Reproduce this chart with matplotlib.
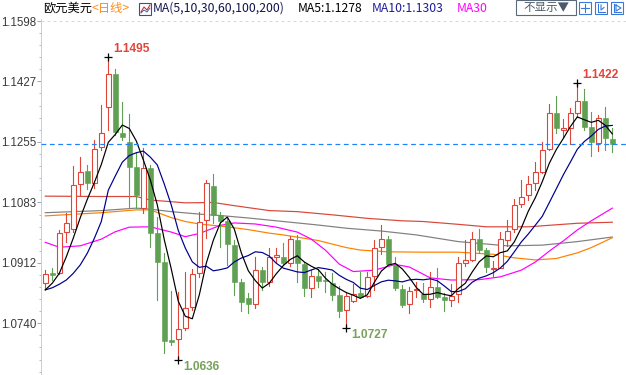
import numpy as np
import pandas as pd
import matplotlib
matplotlib.use("Agg")
import matplotlib.pyplot as plt
from matplotlib.patches import Rectangle
from matplotlib.lines import Line2D

# ---------------- data ----------------
opens = [1.0854, 1.0882, 1.0882, 1.1000, 1.1007, 1.1135, 1.1172, 1.1137, 1.1240, 1.1353,
         1.1447, 1.1280, 1.1254, 1.1185, 1.1066, 1.1180, 1.0997, 1.0915, 1.0692, 1.0695,
         1.0726, 1.0787, 1.0884, 1.1033, 1.1130, 1.1048, 1.1030, 1.0962, 1.0856, 1.0813,
         1.0794, 1.0891, 1.0856, 1.0927, 1.0927, 1.0910, 1.0976, 1.0908, 1.0839, 1.0874,
         1.0864, 1.0854, 1.0821, 1.0778, 1.0804, 1.0826, 1.0819, 1.0874, 1.0956, 1.0978,
         1.0906, 1.0837, 1.0794, 1.0834, 1.0823, 1.0808, 1.0844, 1.0814, 1.0806, 1.0823,
         1.0912, 1.0920, 1.0978, 1.0948, 1.0894, 1.0898, 1.0977, 1.1007, 1.1079, 1.1104,
         1.1138, 1.1170, 1.1234, 1.1336, 1.1290, 1.1293, 1.1338, 1.1371, 1.1296, 1.1251,
         1.1322, 1.1263]
highs = [1.0891, 1.0898, 1.1005, 1.1054, 1.1187, 1.1213, 1.1189, 1.1260, 1.1360, 1.1495,
         1.1462, 1.1367, 1.1333, 1.1223, 1.1237, 1.1189, 1.1043, 1.0939, 1.0832, 1.0828,
         1.0887, 1.0893, 1.1057, 1.1147, 1.1164, 1.1057, 1.1043, 1.0977, 1.0866, 1.0825,
         1.0927, 1.0901, 1.0953, 1.0953, 1.0967, 1.0988, 1.0991, 1.0915, 1.0891, 1.0893,
         1.0885, 1.0884, 1.0846, 1.0830, 1.0853, 1.0887, 1.0887, 1.0977, 1.1019, 1.0988,
         1.0929, 1.0849, 1.0842, 1.0858, 1.0855, 1.0887, 1.0896, 1.0825, 1.0851, 1.0927,
         1.0977, 1.1000, 1.1008, 1.0953, 1.0918, 1.1000, 1.1033, 1.1092, 1.1147, 1.1158,
         1.1199, 1.1256, 1.1363, 1.1385, 1.1319, 1.1350, 1.1422, 1.1404, 1.1341, 1.1331,
         1.1355, 1.1293]
lows = [1.0839, 1.0863, 1.0880, 1.0972, 1.1000, 1.1100, 1.1121, 1.1123, 1.1232, 1.1289,
        1.1275, 1.1260, 1.1067, 1.1066, 1.1052, 1.0958, 1.0806, 1.0655, 1.0680, 1.0636,
        1.0722, 1.0778, 1.0872, 1.0981, 1.1024, 1.0958, 1.0906, 1.0820, 1.0776, 1.0768,
        1.0785, 1.0835, 1.0845, 1.0915, 1.0906, 1.0903, 1.0858, 1.0818, 1.0816, 1.0842,
        1.0830, 1.0806, 1.0759, 1.0727, 1.0800, 1.0813, 1.0816, 1.0835, 1.0937, 1.0905,
        1.0835, 1.0786, 1.0768, 1.0816, 1.0802, 1.0787, 1.0811, 1.0776, 1.0790, 1.0802,
        1.0904, 1.0917, 1.0939, 1.0887, 1.0871, 1.0896, 1.0960, 1.1000, 1.1071, 1.1090,
        1.1119, 1.1166, 1.1232, 1.1281, 1.1270, 1.1249, 1.1327, 1.1290, 1.1215, 1.1230,
        1.1232, 1.1227]
closes = [1.0879, 1.0878, 1.0997, 1.1024, 1.1132, 1.1170, 1.1137, 1.1234, 1.1281, 1.1447,
          1.1282, 1.1270, 1.1185, 1.1104, 1.1180, 1.0997, 1.0915, 1.0690, 1.0688, 1.0723,
          1.0785, 1.0879, 1.1029, 1.1137, 1.1048, 1.1031, 1.0964, 1.0858, 1.0800, 1.0794,
          1.0891, 1.0858, 1.0927, 1.0934, 1.0910, 1.0978, 1.0910, 1.0839, 1.0874, 1.0861,
          1.0860, 1.0821, 1.0776, 1.0819, 1.0823, 1.0816, 1.0871, 1.0953, 1.0978, 1.0908,
          1.0841, 1.0792, 1.0832, 1.0837, 1.0808, 1.0844, 1.0816, 1.0805, 1.0818, 1.0910,
          1.0920, 1.0978, 1.0948, 1.0901, 1.0898, 1.0978, 1.1003, 1.1076, 1.1098, 1.1136,
          1.1169, 1.1232, 1.1336, 1.1293, 1.1293, 1.1336, 1.1371, 1.1296, 1.1256, 1.1322,
          1.1265, 1.1249]

# moving-average values before enough bars exist on screen
ma5_head = [1.0835, 1.0854, 1.0882, 1.0929]
ma10_head = [1.0835, 1.0841, 1.0851, 1.0863, 1.0882, 1.0906, 1.0939, 1.0981, 1.1029]

# longer moving averages read at sample bars
ma30_idx = [0, 2, 5, 8, 10, 12, 15, 18, 20, 22, 25, 27, 30, 33, 36, 38, 40, 42, 44, 47,
            50, 52, 55, 58, 62, 65, 68, 70, 72, 74, 76, 78, 81]
ma30_val = [1.0970, 1.0956, 1.0960, 1.0979, 1.1000, 1.1013, 1.1014, 1.0999, 1.0986, 1.0995,
            1.1018, 1.1025, 1.1022, 1.1013, 1.0999, 1.0979, 1.0948, 1.0908, 1.0887, 1.0891,
            1.0907, 1.0900, 1.0869, 1.0863, 1.0864, 1.0872, 1.0891, 1.0914, 1.0945, 1.0974,
            1.1005, 1.1031, 1.1067]
ma60_idx = [0, 8, 13, 15, 18, 20, 22, 26, 29, 32, 34, 39, 43, 45, 49, 54, 59, 64, 67, 70,
            73, 76, 78, 81]
ma60_val = [1.1045, 1.1054, 1.1062, 1.1062, 1.1040, 1.1029, 1.1022, 1.1014, 1.1006, 1.0996,
            1.0991, 1.0975, 1.0955, 1.0948, 1.0943, 1.0942, 1.0942, 1.0936, 1.0926, 1.0920,
            1.0924, 1.0940, 1.0955, 1.0983]
ma100_idx = [0, 8, 13, 15, 18, 22, 25, 29, 34, 39, 43, 48, 53, 59, 66, 71, 76, 81]
ma100_val = [1.1054, 1.1060, 1.1067, 1.1064, 1.1057, 1.1050, 1.1046, 1.1039, 1.1029, 1.1019,
             1.1010, 1.1002, 1.0991, 1.0972, 1.0960, 1.0962, 1.0972, 1.0985]
ma200_idx = [0, 8, 13, 15, 20, 24, 27, 32, 36, 41, 46, 51, 54, 59, 63, 69, 76, 81]
ma200_val = [1.1101, 1.1100, 1.1100, 1.1090, 1.1082, 1.1083, 1.1074, 1.1060, 1.1057, 1.1048,
             1.1038, 1.1031, 1.1029, 1.1021, 1.1014, 1.1014, 1.1024, 1.1027]

ytick_vals = [1.1598, 1.1427, 1.1255, 1.1083, 1.0912, 1.0740]
ytick_labels = ["1.1598", "1.1427", "1.1255", "1.1083", "1.0912", "1.0740"]

# header readouts as shown in the legend
header_ma5 = "1.1278"
header_ma10 = "1.1303"

ext_high_idx = [9, 76]
ext_low_idx = [19, 43]

# ---------------- derived ----------------
closes_arr = np.array(closes)
ma5 = pd.Series(closes_arr).rolling(5).mean().to_numpy()
ma5[:len(ma5_head)] = ma5_head
ma10 = pd.Series(closes_arr).rolling(10).mean().to_numpy()
ma10[:len(ma10_head)] = ma10_head
n = len(closes)
xs = np.arange(n)

# ---------------- figure ----------------
W, H = 626, 375
fig = plt.figure(figsize=(W / 100, H / 100), dpi=100)
fig.patch.set_facecolor("white")

ax_left, ax_top = 41, 19
ax = fig.add_axes([ax_left / W, 0, 1 - ax_left / W, (H - ax_top) / H])
ax.set_facecolor("white")

# pixel mapping: v = 1.1495 at y=57.3, 3524 px per unit
def v_at(ypix):
    return 1.1495 - (ypix - 57.3) / 3524.0

ax.set_ylim(v_at(H), v_at(ax_top))
ax.set_xlim(-(45.3 - ax_left) / 7.0, (W - 45.3) / 7.0)

RED = "#e0453a"
GREEN = "#5fa052"
bw = 0.7
lw_px = 72 / 100.0  # 1 pixel in points

# long moving averages
ax.plot(ma200_idx, ma200_val, color="#d9473a", lw=1.2 * lw_px, zorder=2)
ax.plot(ma100_idx, ma100_val, color="#808080", lw=1.2 * lw_px, zorder=2)
ax.plot(ma60_idx, ma60_val, color="#ff8000", lw=1.2 * lw_px, zorder=2)
ax.plot(ma30_idx, ma30_val, color="#ff00ff", lw=1.2 * lw_px, zorder=2)

for i in range(n):
    o, h, l, c = opens[i], highs[i], lows[i], closes[i]
    top, bot = max(o, c), min(o, c)
    if c >= o:
        col = RED
        ax.add_line(Line2D([i, i], [top, h], color=col, lw=lw_px * 1.1, zorder=3))
        ax.add_line(Line2D([i, i], [l, bot], color=col, lw=lw_px * 1.1, zorder=3))
        if top - bot < 0.00025:
            ax.add_line(Line2D([i - bw / 2, i + bw / 2], [c, c], color=col, lw=lw_px * 1.6, zorder=3))
        else:
            ax.add_patch(Rectangle((i - bw / 2, bot), bw, top - bot, facecolor="white",
                                   edgecolor=col, lw=lw_px * 1.1, zorder=3))
    else:
        col = GREEN
        ax.add_line(Line2D([i, i], [l, h], color=col, lw=lw_px * 1.1, zorder=3))
        if top - bot < 0.00025:
            ax.add_line(Line2D([i - bw / 2, i + bw / 2], [c, c], color=col, lw=lw_px * 1.6, zorder=3))
        else:
            ax.add_patch(Rectangle((i - bw / 2, bot), bw, top - bot, facecolor=col,
                                   edgecolor=col, lw=lw_px * 0.6, zorder=3))

ax.plot(xs, ma10, color="#00008b", lw=lw_px * 1.2, zorder=4)
ax.plot(xs, ma5, color="black", lw=lw_px * 1.2, zorder=5)

# last price dashed line
ax.axhline(closes[-1], color="#1e82ff", lw=lw_px * 1.2, ls=(0, (4, 3)), zorder=6)
# top dashed separator
ax.axhline(ytick_vals[0], color="#d8d8d8", lw=lw_px, ls=(0, (3, 3)), zorder=1)

# extreme markers
for i in ext_high_idx:
    ax.plot(i, highs[i], marker="+", color="black", ms=5.8, mew=0.9, zorder=7)
    ax.annotate(f"{highs[i]:.4f}", (i, highs[i]), xytext=(5, 8), textcoords="offset pixels",
                ha="left", va="center", color=RED, fontsize=8.6, fontweight="bold",
                family=["Liberation Sans", "DejaVu Sans"], zorder=7)
for i in ext_low_idx:
    ax.plot(i, lows[i], marker="+", color="black", ms=5.8, mew=0.9, zorder=7)
    ax.annotate(f"{lows[i]:.4f}", (i, lows[i]), xytext=(5, -7), textcoords="offset pixels",
                ha="left", va="center", color="#78a25a", fontsize=8.6, fontweight="bold",
                family=["Liberation Sans", "DejaVu Sans"], zorder=7)

# axes styling
for s in ["top", "right", "bottom"]:
    ax.spines[s].set_visible(False)
ax.spines["left"].set_color("#c4d2e0")
ax.spines["left"].set_linewidth(lw_px)
ax.set_xticks([])
ax.set_yticks(ytick_vals)
ax.set_yticklabels(ytick_labels, family=["Liberation Sans", "DejaVu Sans"], fontsize=8.3,
                   color="#3a3a3a")
minor = []
step = ytick_vals[0] - ytick_vals[1]
for k in range(len(ytick_vals) - 1):
    a, b = ytick_vals[k], ytick_vals[k + 1]
    for j in range(1, 5):
        minor.append(a + (b - a) * j / 5)
minor += [ytick_vals[-1] - step / 5 * j for j in range(1, 5)]
ax.set_yticks(minor, minor=True)
ax.tick_params(axis="y", which="major", length=4 * lw_px, width=lw_px, color="#9aa8b8", pad=0.5)
ax.tick_params(axis="y", which="minor", length=2 * lw_px, width=lw_px, color="#b0bccb")

# ---------------- header ----------------
def fx(x):
    return x / W

def fy(y):
    return 1 - y / H

cjk = ["Noto Sans CJK SC", "DejaVu Sans"]
hy = fy(8.5)
fs = 8.8
fig.text(fx(43), hy, "欧元美元", family=cjk, fontsize=fs, color="black", va="center")
fig.text(fx(92), hy, "<日线>", family=cjk, fontsize=fs, color="#ff8c1a", va="center")
# small chart icon
fig.patches.append(Rectangle((fx(139), fy(15)), 12 / W, 12 / H, transform=fig.transFigure,
                             facecolor="white", edgecolor="#2a4fb0", lw=0.8))
fig.lines.append(Line2D([fx(141), fx(144), fx(147), fx(150)], [fy(12), fy(7), fy(10), fy(5)],
                        transform=fig.transFigure, color="#d03030", lw=0.8))
fig.lines.append(Line2D([fx(141), fx(144), fx(147), fx(150)], [fy(13), fy(10), fy(12), fy(8)],
                        transform=fig.transFigure, color="#2a4fb0", lw=0.6))
fig.text(fx(153), hy, "MA(5,10,30,60,100,200)", family=cjk, fontsize=fs, color="#141450", va="center")
fig.text(fx(298), hy, "MA5:" + header_ma5, family=cjk, fontsize=fs, color="black", va="center")
fig.text(fx(372), hy, "MA10:" + header_ma10, family=cjk, fontsize=fs, color="#1c1c9c", va="center")
fig.text(fx(457), hy, "MA30", family=cjk, fontsize=fs, color="#ff00ff", va="center")

# "不显示" button
fig.patches.append(Rectangle((fx(516), fy(15)), 60 / W, 15 / H, transform=fig.transFigure,
                             facecolor="white", edgecolor="#5a6a7a", lw=0.8))
fig.text(fx(546), fy(7.5), "不显示▼", family=cjk, fontsize=8.3, color="#4a5a6a",
         ha="center", va="center")
# three tool icons
for x0 in [579, 595, 611]:
    fig.patches.append(Rectangle((fx(x0), fy(14)), 12 / W, 12 / H, transform=fig.transFigure,
                                 facecolor="white", edgecolor="#3a78d8", lw=0.8))
fig.lines.append(Line2D([fx(585), fx(585)], [fy(4), fy(12)], transform=fig.transFigure, color="#3a78d8", lw=0.8))
fig.lines.append(Line2D([fx(581), fx(589)], [fy(8), fy(8)], transform=fig.transFigure, color="#3a78d8", lw=0.8))
fig.lines.append(Line2D([fx(598), fx(598), fx(605)], [fy(4), fy(12), fy(12)], transform=fig.transFigure, color="#3a78d8", lw=0.8))
fig.lines.append(Line2D([fx(601), fx(601), fx(604)], [fy(5), fy(10), fy(7.5)], transform=fig.transFigure, color="#3a78d8", lw=0.8))
fig.lines.append(Line2D([fx(614), fx(614), fx(621)], [fy(4), fy(12), fy(12)], transform=fig.transFigure, color="#3a78d8", lw=0.8))
fig.lines.append(Line2D([fx(616), fx(621), fx(616), fx(616)], [fy(5), fy(8), fy(11), fy(5)], transform=fig.transFigure, color="#3a78d8", lw=0.8))

fig.savefig("out.png", dpi=100)
